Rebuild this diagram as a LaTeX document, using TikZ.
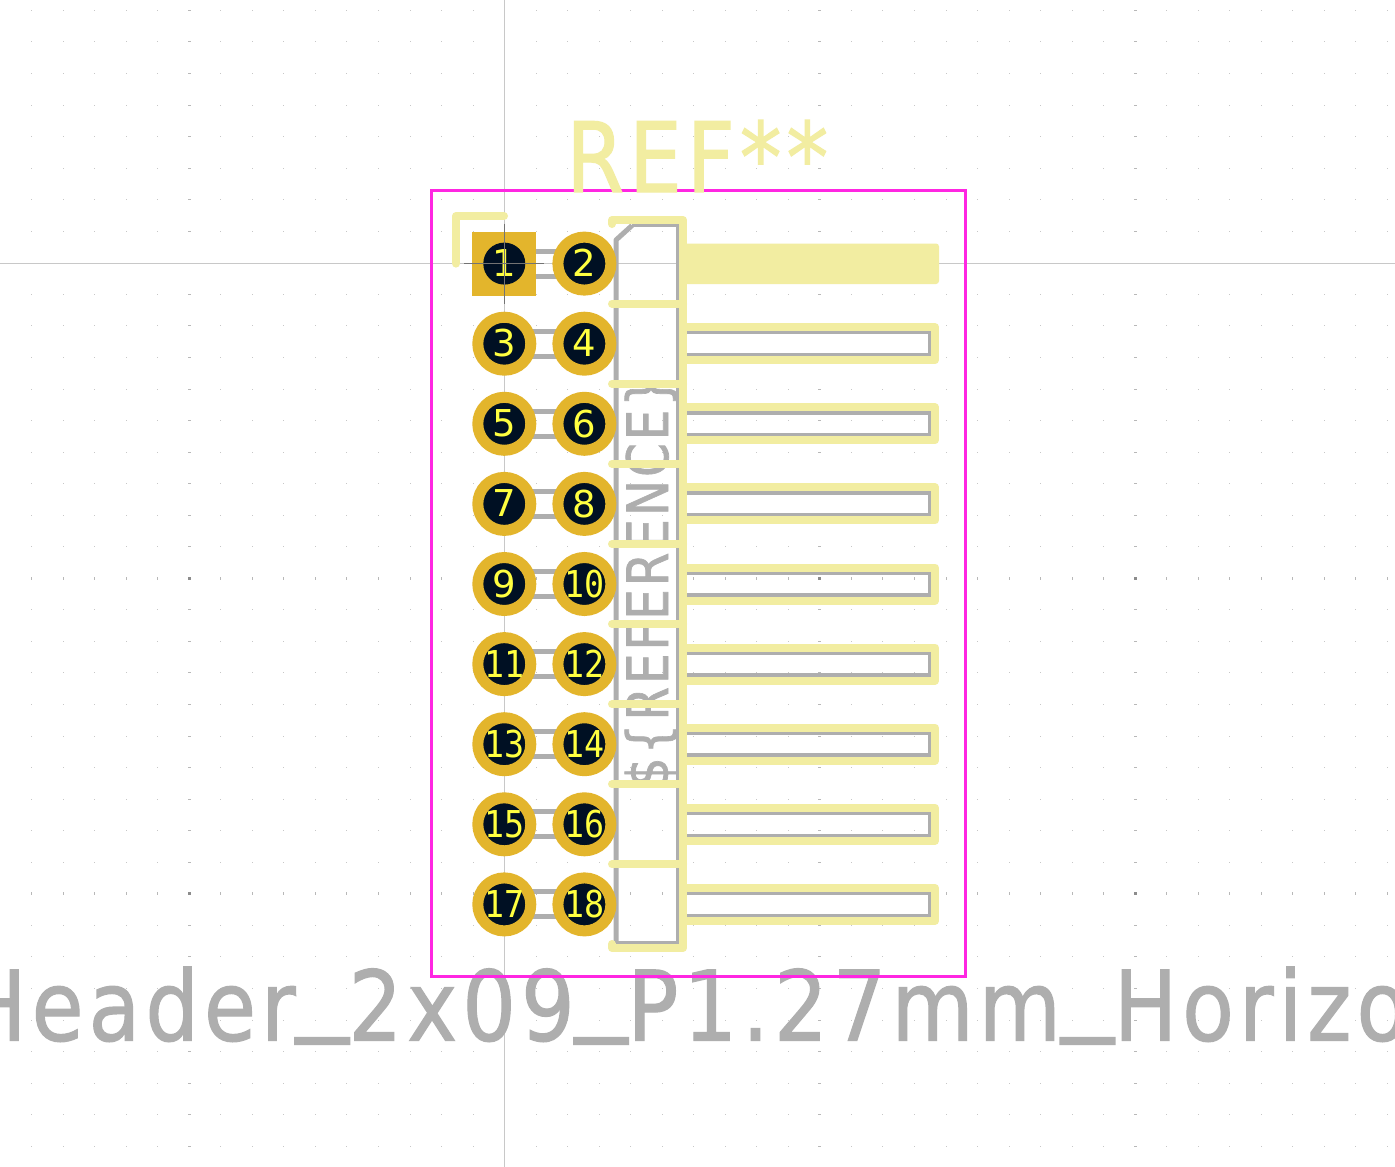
\documentclass[tikz,border=0pt]{standalone}
\usepackage{fontspec}
\setmainfont{DejaVu Sans}
\newfontfamily\monodigits{DejaVu Sans Mono}
\newfontfamily\strokefont[LetterSpace=6,FakeBold=1.3]{DejaVu Sans}
\usetikzlibrary{calc}
\definecolor{silk}{HTML}{F2EDA1}
\definecolor{fab}{HTML}{AEAEAE}
\definecolor{gold}{HTML}{E3B52C}
\definecolor{hole}{HTML}{001023}
\definecolor{court}{HTML}{FF26E2}
\definecolor{num}{HTML}{FFFF40}
\definecolor{cross}{HTML}{C8C8C8}
\tikzset{
  silkline/.style={draw=silk,line width=8pt,line cap=round,line join=round},
  fabline/.style={draw=fab,line width=3.5pt,line join=miter},
  padring/.style={circle,draw=gold,fill=hole,line width=11pt,minimum size=53pt,inner sep=0pt,text=num,font=\fontsize{37}{37}\selectfont},
  padsquare/.style={rectangle,fill=gold,minimum size=64pt,inner sep=0pt},
  padhole/.style={circle,fill=hole,minimum size=42pt,inner sep=0pt,text=num,font=\fontsize{37}{37}\selectfont},
  griddot/.style={fill=black!28},
}
\newcommand{\padlabel}[1]{\raisebox{1pt}{\ifnum#1>9 \scalebox{0.9}[1]{\monodigits #1}\else #1\fi}}
\newcommand{\usc}{\raisebox{19pt}{\scalebox{1.25}[1]{\_}}}
\begin{document}
\begin{tikzpicture}[x=1pt,y=-1pt]
\useasboundingbox (0,0) rectangle (1395,1167);
\clip (0,0) rectangle (1395,1167);
\fill[white] (0,0) rectangle (1395,1167);
% grid
\foreach \i in {-5,...,38}{
  \foreach \j in {-18,...,18}{
    \pgfmathsetmacro{\gx}{189.3+31.53*\i}
    \pgfmathsetmacro{\gy}{578.3+31.55*\j}
    \pgfmathtruncatemacro{\mi}{mod(\i+50,10)==0}
    \pgfmathtruncatemacro{\mj}{mod(\j+50,10)==0}
    \pgfmathtruncatemacro{\skipit}{(\i==10)||(\j==-10)}
    \ifnum\skipit=0
    \ifnum\mi=1
      \ifnum\mj=1
        \fill[black!45] (\gx-1.5,\gy-1.5) rectangle (\gx+1.5,\gy+1.5);
      \else
        \fill[griddot] (\gx-1.5,\gy-.5) rectangle (\gx+1.5,\gy+.5);
      \fi
    \else
      \ifnum\mj=1
        \fill[griddot] (\gx-.5,\gy-1.5) rectangle (\gx+.5,\gy+1.5);
      \else
        \fill[black!22] (\gx-.5,\gy-.5) rectangle (\gx+.5,\gy+.5);
      \fi
    \fi
    \fi
  }
}
% crosshair
\coordinate (xl) at (0,263.5); \coordinate (xr) at (1395,263.5);
\coordinate (yt) at (504.3,0); \coordinate (yb) at (504.3,1167);
\draw[cross,line width=.8pt] (xl) -- (xr);
\draw[cross,line width=.8pt] (yt) -- (yb);
% pad centres
\foreach \r in {0,...,8}{
  \pgfmathtruncatemacro{\a}{2*\r+1}
  \pgfmathtruncatemacro{\b}{2*\r+2}
  \pgfmathsetmacro{\yy}{263.6+80.1*\r}
  \coordinate (c\a) at (504.3,\yy);
  \coordinate (c\b) at (584.4,\yy);
  % fab pin between pads
  \draw[draw=fab,line width=5pt] ($(c\a)+(0,-12.5)$) -- ($(c\b)+(0,-12.5)$);
  \draw[draw=fab,line width=5pt] ($(c\a)+(0,12.5)$) -- ($(c\b)+(0,12.5)$);
  % fab right pin
  \draw[fabline] (679,\yy-11) -- (930,\yy-11) -- (930,\yy+11) -- (679,\yy+11);
}
% fab body
\draw[draw=fab,line width=5pt,line join=round] (632,225.5) -- (616,240) -- (616,943);
\draw[fabline] (632,225.5) -- (678,225.5) -- (678,943) -- (616,943);
% fab value text
\node[text=fab,inner sep=0pt,rotate=90,anchor=base,font=\fontsize{57}{57}\selectfont] (refval) at (668,582) {\scalebox{0.85}[1]{\strokefont \$\{REFERENCE\}}};
% footprint name
\node[text=fab,inner sep=0pt,anchor=base west,font=\fontsize{97}{97}\selectfont] (fpname) at (-37,1040.5) {\scalebox{0.87}[1]{\strokefont Header\usc 2x09\usc P1.27mm\usc Horizo}};
% courtyard
\draw[draw=court,line width=3pt] (431.7,190.5) rectangle (965.5,976);
% silk
\draw[silkline] (456,263.6) -- (456,216) -- (504,216);
\draw[silkline] (612,224) -- (612,220) -- (683,220) -- (683,948) -- (612,948) -- (612,944);
\foreach \r in {0,...,7}{
  \pgfmathsetmacro{\yy}{303.65+80.1*\r}
  \draw[silkline] (612,\yy) -- (683,\yy);
}
\fill[silk,rounded corners=3pt] (683,243.5) rectangle (939,284);
\foreach \r in {1,...,8}{
  \pgfmathsetmacro{\yy}{263.6+80.1*\r}
  \draw[silkline,line cap=butt] (683,\yy-16.5) -- (935,\yy-16.5) -- (935,\yy+16.5) -- (683,\yy+16.5);
}
\node[text=silk,inner sep=0pt,anchor=base west,font=\fontsize{97}{97}\selectfont] (ref) at (566,192) {\scalebox{0.86}[1]{\strokefont REF**}};
% pads
\node[padsquare] (p1sq) at (c1) {};
\node[padhole] (p1) at (c1) {\raisebox{1pt}{1}};
\foreach \n in {2,...,18}{
  \node[padring] (p\n) at (c\n) {\padlabel{\n}};
}
% anchor crosshair
\coordinate (al) at (464.3,263.5); \coordinate (ar) at (544.3,263.5);
\coordinate (at) at (504.3,223.5); \coordinate (ab) at (504.3,303.5);
\draw[draw=black!55,line width=.8pt] (al) -- (ar);
\draw[draw=black!55,line width=.8pt] (at) -- (ab);
\end{tikzpicture}
\end{document}
